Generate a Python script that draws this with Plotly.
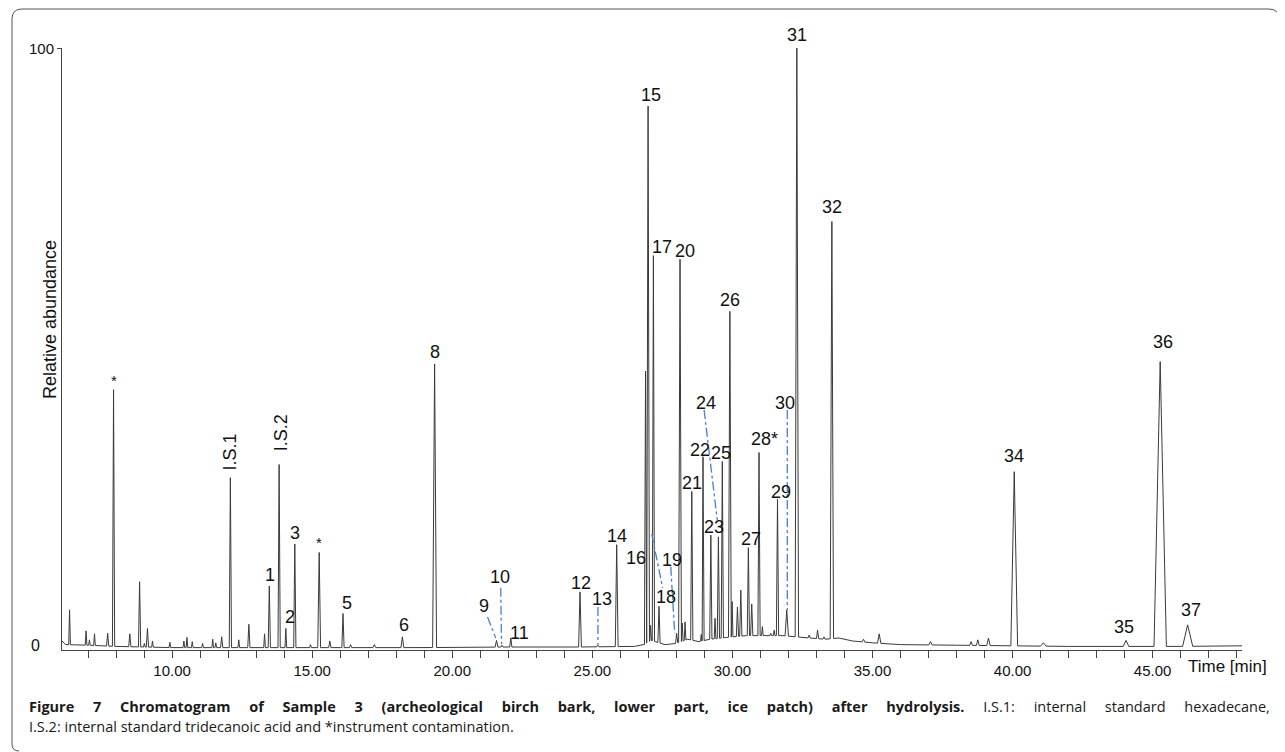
import numpy as np
import plotly.graph_objects as go

# ---------------- data ----------------
# baseline of the chromatogram (time in min, relative abundance)
base_time = [6.07, 6.2, 7.0, 8.0, 9.0, 10.0, 12.0, 14.0, 16.0, 19.0, 22.0, 24.5,
             26.5, 26.85, 27.1, 27.6, 28.0, 28.4, 28.8, 29.2, 29.8, 30.5, 31.2,
             31.8, 32.5, 33.3, 33.8, 34.3, 35.0, 36.0, 38.0, 40.0, 42.0, 44.0,
             46.0, 48.19]
base_level = [0.9, 0.3, 0.2, 0.0, -0.1, -0.2, -0.2, -0.2, -0.2, -0.2, -0.1, -0.1,
              0.0, 0.3, 1.0, 0.3, 0.5, 1.2, 0.8, 1.2, 1.5, 1.8, 1.8,
              1.8, 1.5, 1.2, 1.4, 0.9, 0.6, 0.3, 0.2, 0.1, 0.0, 0.0,
              0.0, 0.1]

# peaks: retention time, apex height, half base width (min)
peak_time = [6.34, 6.93, 7.05, 7.23, 7.70, 7.91, 8.49, 8.84, 9.01, 9.12, 9.30, 9.92,
             10.42, 10.53, 10.72, 11.09, 11.45, 11.56, 11.77, 12.08, 12.38, 12.74,
             13.30, 13.47, 13.82, 14.06, 14.38, 14.94, 15.25, 15.63, 16.10, 16.37,
             17.22, 18.22, 19.37, 21.58, 21.77, 22.09, 24.56, 25.20, 25.87, 26.90,
             26.99, 27.08, 27.18, 27.38, 28.01, 28.13, 28.21, 28.31, 28.55, 28.89,
             28.95, 29.23, 29.38, 29.50, 29.64, 29.91, 29.99, 30.18, 30.30, 30.57,
             30.69, 30.95, 31.07, 31.37, 31.49, 31.61, 31.94, 32.30, 32.74, 33.04,
             33.27, 33.55, 34.68, 35.24, 37.07, 38.52, 38.76, 39.14, 40.06, 41.10,
             44.05, 45.27, 46.25]
peak_height = [6.1, 2.6, 1.1, 2.1, 2.2, 42.9, 2.1, 10.8, 0.5, 3.0, 0.9, 0.7,
               0.9, 1.5, 0.8, 0.5, 1.2, 0.6, 1.6, 28.2, 1.1, 3.7,
               2.1, 10.1, 30.4, 3.0, 17.1, 0.3, 15.7, 0.9, 5.5, 0.3,
               0.3, 1.6, 47.2, 1.0, 0.2, 1.4, 9.1, 0.2, 17.0, 46.0,
               90.3, 3.5, 65.3, 6.7, 2.2, 64.7, 3.9, 4.1, 25.9, 2.0,
               31.7, 18.6, 4.7, 18.3, 30.9, 56.0, 7.5, 6.6, 9.4, 16.5,
               7.1, 32.4, 3.3, 2.2, 2.7, 24.6, 6.1, 100.0, 1.9, 2.7,
               1.6, 71.0, 1.2, 2.1, 0.8, 0.8, 1.1, 1.4, 29.2, 0.6,
               1.0, 47.6, 3.6]
peak_halfwidth = [0.03, 0.03, 0.03, 0.03, 0.04, 0.04, 0.04, 0.04, 0.03, 0.04, 0.03, 0.03,
                  0.03, 0.03, 0.03, 0.03, 0.03, 0.03, 0.04, 0.04, 0.03, 0.04,
                  0.03, 0.04, 0.04, 0.03, 0.04, 0.03, 0.05, 0.04, 0.04, 0.04,
                  0.05, 0.05, 0.07, 0.05, 0.04, 0.04, 0.05, 0.04, 0.05, 0.04,
                  0.05, 0.03, 0.04, 0.04, 0.04, 0.05, 0.03, 0.03, 0.04, 0.03,
                  0.04, 0.04, 0.03, 0.04, 0.04, 0.05, 0.03, 0.04, 0.04, 0.04,
                  0.04, 0.04, 0.03, 0.03, 0.03, 0.04, 0.06, 0.06, 0.04, 0.04,
                  0.04, 0.06, 0.05, 0.06, 0.06, 0.05, 0.05, 0.06, 0.12, 0.10,
                  0.10, 0.22, 0.18]

# peak labels (anchor in data units)
label_text = ["*", "I.S.1", "I.S.2", "1", "2", "3", "*", "5", "6", "8", "9", "10", "11",
              "12", "13", "14", "15", "16", "17", "18", "19", "20", "21", "22", "23",
              "24", "25", "26", "27", "28*", "29", "30", "31", "32", "34", "35", "36", "37"]
label_time = [7.92, 12.05, 13.87, 13.49, 14.22, 14.40, 15.24, 16.23, 18.27, 19.37, 21.12,
              21.69, 22.41, 24.58, 25.33, 25.89, 27.08, 26.55, 27.50, 27.62, 27.86,
              28.30, 28.57, 28.84, 29.34, 29.05, 29.61, 29.91, 30.65, 31.13, 31.73,
              31.88, 32.29, 33.55, 40.06, 43.98, 45.38, 46.37]
label_level = [44.4, 32.5, 35.7, 12.0, 4.9, 19.0, 17.3, 7.3, 3.6, 49.2, 6.75,
               11.6, 2.2, 10.65, 7.9, 18.5, 92.15, 14.8, 66.8, 8.3, 14.4,
               66.0, 27.3, 32.8, 20.0, 40.6, 32.3, 57.9, 17.9, 34.6, 25.85,
               40.7, 102.2, 73.4, 31.8, 3.2, 50.9, 6.1]

# dash-dot leader lines (start, end)
leader_time = [[21.26, 21.55], [21.73, 21.76], [25.20, 25.20], [27.12, 27.51],
               [27.80, 27.94], [28.99, 29.46], [31.96, 31.96]]
leader_level = [[4.9, 1.4], [9.8, 0.4], [6.6, 0.1], [18.8, 9.8],
                [13.3, 2.2], [39.5, 21.1], [39.5, 6.1]]

tick_vals = [10, 15, 20, 25, 30, 35, 40, 45]
tick_text = ["10.00", "15.00", "20.00", "25.00", "30.00", "35.00", "40.00", "45.00"]

Y_MIN, Y_MAX = -0.6, 100

# ---------------- build the trace ----------------
bt = np.array(base_time)
bl = np.array(base_level)
pts = []
for t, h, w in zip(peak_time, peak_height, peak_halfwidth):
    pts.append((t - w, float(np.interp(t - w, bt, bl))))
    pts.append((t, h))
    pts.append((t + w, float(np.interp(t + w, bt, bl))))
for t, lv in zip(base_time, base_level):
    if not any(abs(t - pt) < w for pt, w in zip(peak_time, peak_halfwidth)):
        pts.append((t, lv))
pts.sort(key=lambda p: p[0])
xs = [p[0] for p in pts]
ys = [p[1] for p in pts]

FONT = "Liberation Sans, Arial, Helvetica, sans-serif"
CAP_FONT = "Open Sans, Noto Sans, sans-serif"

fig = go.Figure()
fig.add_trace(go.Scatter(x=xs, y=ys, mode="lines",
                         line=dict(color="#3a3a3a", width=1),
                         hoverinfo="skip", showlegend=False))
for lt, ll in zip(leader_time, leader_level):
    fig.add_trace(go.Scatter(x=lt, y=ll, mode="lines",
                             line=dict(color="#4680cc", width=1.3, dash="dashdot"),
                             hoverinfo="skip", showlegend=False))

# page is offset by the 8px default body margin
OFF = 8
W, H = 1285 - OFF, 752 - OFF
L, R, T, B = 62 - OFF, 43, 48 - OFF, 102
pw, ph = W - L - R, H - T - B
px_per_unit = ph / (Y_MAX - Y_MIN)


def px(x):  # page x -> paper
    return (x - OFF - L) / pw


def py(y):  # page y -> paper
    return (H - B - (y - OFF)) / ph


annotations = []
for txt, t, lv in zip(label_text, label_time, label_level):
    rot = -90 if txt.startswith("I.S") else 0
    size = 15 if txt == "*" else 18
    yv, ysh = lv, 0
    if lv > Y_MAX:
        yv, ysh = Y_MAX, (lv - Y_MAX) * px_per_unit
    annotations.append(dict(x=t, y=yv, yshift=ysh, xref="x", yref="y", text=txt,
                            showarrow=False, xanchor="center", yanchor="middle",
                            textangle=rot,
                            font=dict(family=FONT, size=size, color="#111")))

line1 = ('<span style="word-spacing:15px"><b>Figure 7 Chromatogram of Sample 3 '
         '(archeological birch bark, lower part, ice patch) after hydrolysis.</b> '
         'I.S.1: internal standard hexadecane,</span>')
line2 = "I.S.2: internal standard tridecanoic acid and *instrument contamination."

annotations += [
    dict(x=px(56), y=100, xref="paper", yref="y", text="100", showarrow=False,
         xanchor="right", yanchor="middle", font=dict(family=FONT, size=15, color="#111")),
    dict(x=px(42), y=0.2, xref="paper", yref="y", text="0", showarrow=False,
         xanchor="right", yanchor="middle", font=dict(family=FONT, size=16, color="#111")),
    dict(x=px(50), y=py(320), xref="paper", yref="paper", text="Relative abundance",
         showarrow=False, textangle=-90, xanchor="center", yanchor="middle",
         font=dict(family=FONT, size=18, color="#111")),
    dict(x=px(1186), y=py(666), xref="paper", yref="paper", text="Time [min]",
         showarrow=False, xanchor="left", yanchor="middle",
         font=dict(family=FONT, size=17, color="#111")),
    dict(x=px(27), y=py(706), xref="paper", yref="paper", text=line1,
         showarrow=False, xanchor="left", yanchor="middle",
         font=dict(family=CAP_FONT, size=14.5, color="#1a1a1a")),
    dict(x=px(27), y=py(726), xref="paper", yref="paper", text=line2,
         showarrow=False, xanchor="left", yanchor="middle",
         font=dict(family=CAP_FONT, size=14.5, color="#1a1a1a")),
]

frame_path = (f"M {px(12)},{py(744)} L {px(12)},{py(19)} "
              f"Q {px(12)},{py(9)} {px(22)},{py(9)} L {px(1269)},{py(9)} "
              f"Q {px(1279)},{py(9)} {px(1279)},{py(19)} L {px(1279)},{py(668)}")
frame_bottom = f"M {px(12)},{py(744)} Q {px(12)},{py(751)} {px(19)},{py(751)}"

fig.update_layout(
    width=W, height=H,
    margin=dict(l=L, r=R, t=T, b=B),
    paper_bgcolor="white", plot_bgcolor="white",
    showlegend=False, hovermode=False,
    annotations=annotations,
    shapes=[dict(type="path", path=frame_path, xref="paper", yref="paper",
                 line=dict(color="#555", width=1)),
            dict(type="path", path=frame_bottom, xref="paper", yref="paper",
                 line=dict(color="#555", width=1))],
    xaxis=dict(range=[6.07, 48.19], showline=True, linecolor="#444", linewidth=1,
               ticks="outside", ticklen=7, tickwidth=1, tickcolor="#444",
               tickvals=tick_vals, ticktext=tick_text,
               tickfont=dict(family=FONT, size=15, color="#111"),
               minor=dict(ticks="outside", ticklen=7, tickcolor="#444", dtick=1, tick0=0),
               showgrid=False, zeroline=False),
    yaxis=dict(range=[Y_MIN, Y_MAX], showline=True, linecolor="#444", linewidth=1,
               ticks="outside", ticklen=4, tickcolor="#444", tickvals=[100],
               showticklabels=False, showgrid=False, zeroline=False),
)

fig.write_html("out.html")
